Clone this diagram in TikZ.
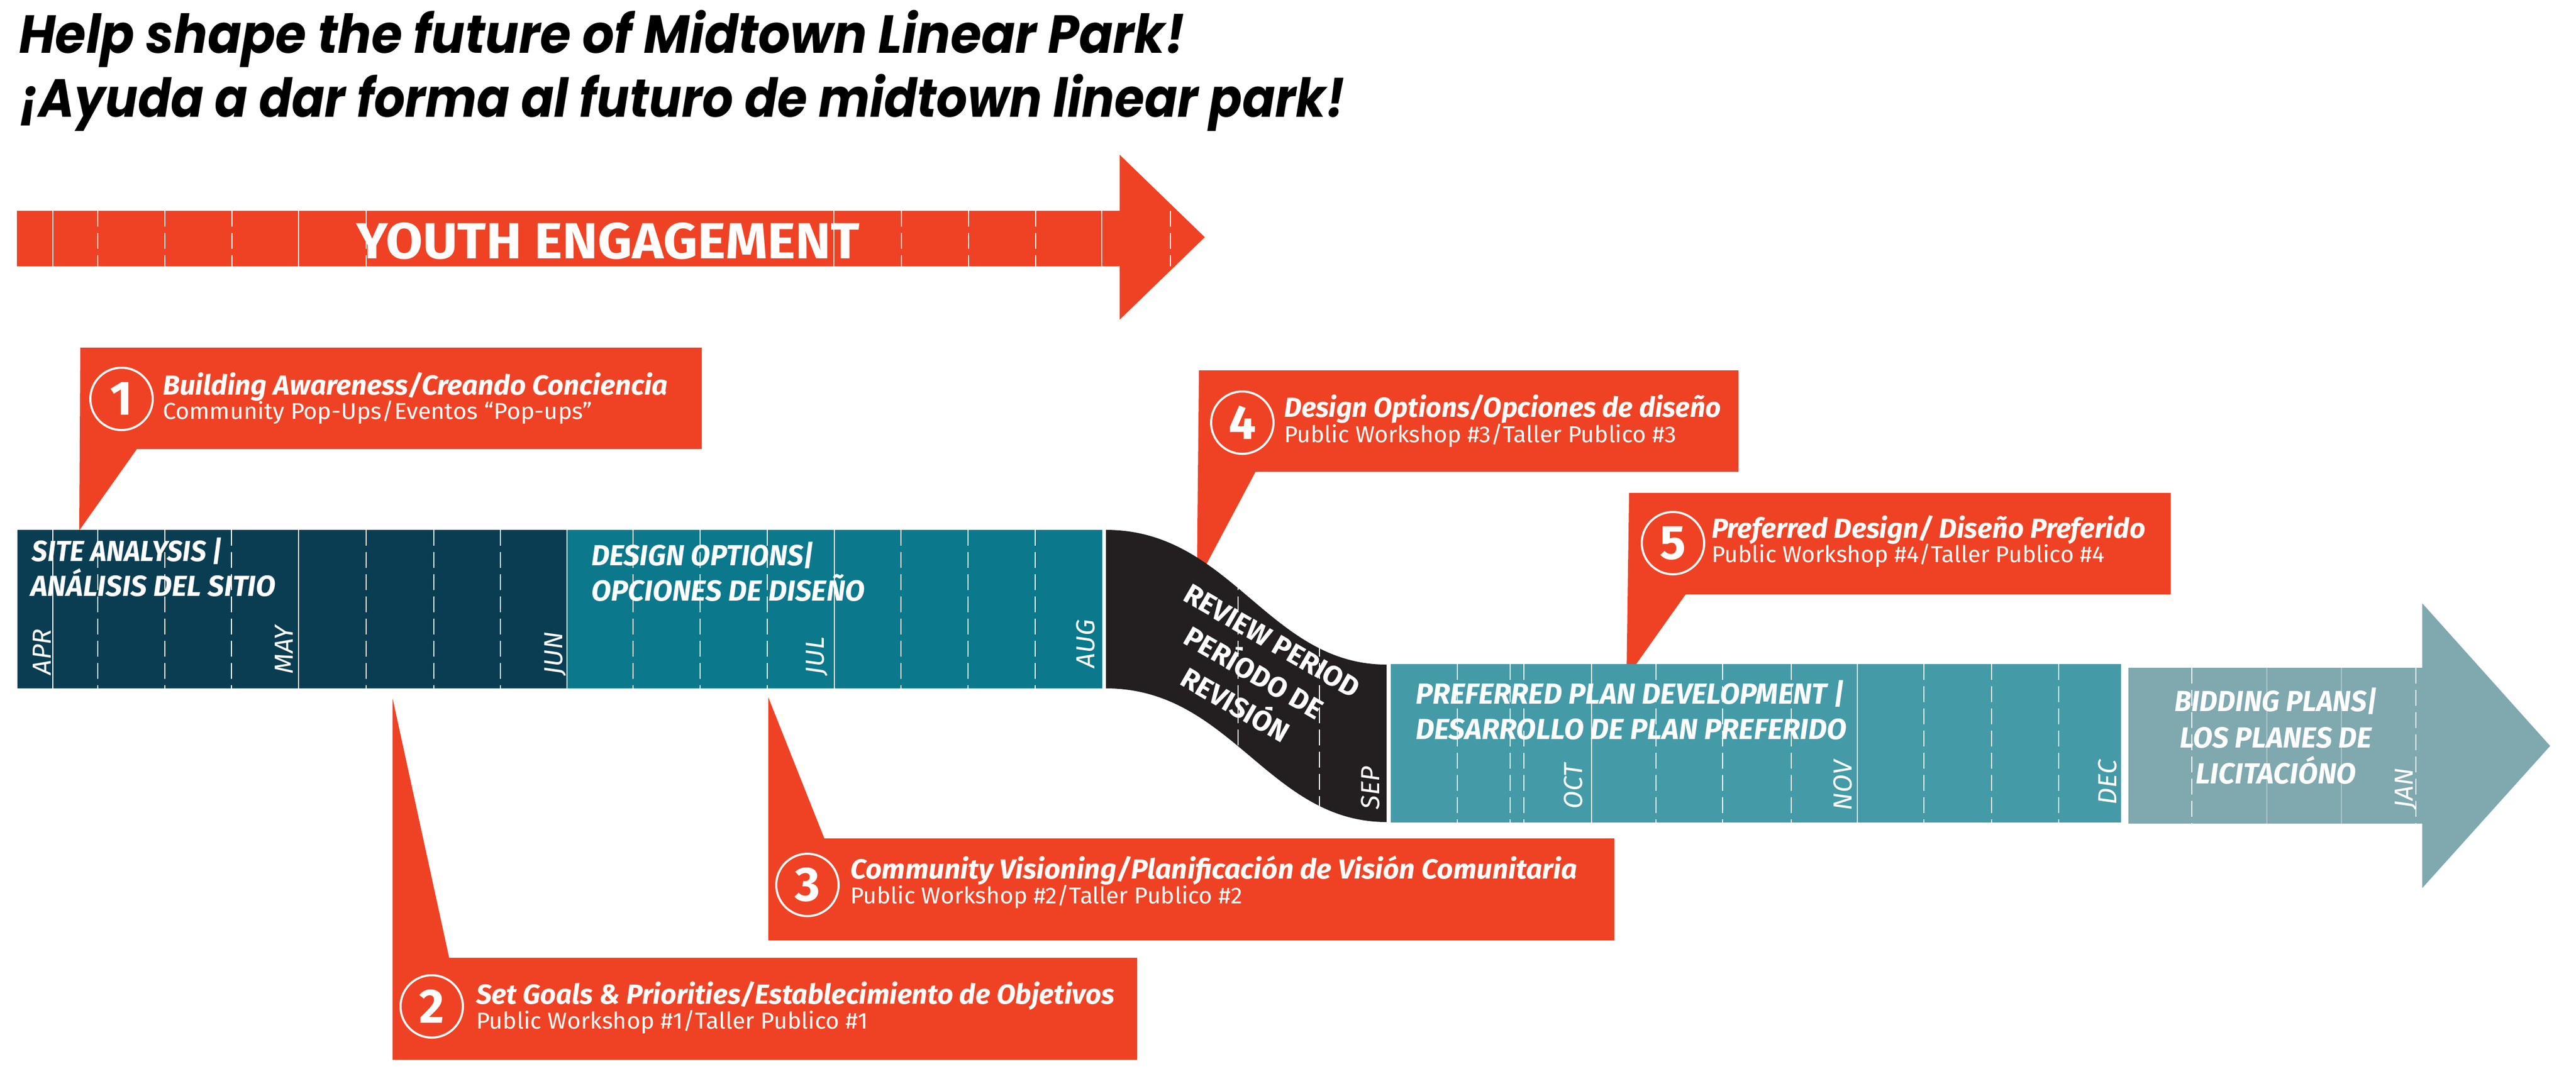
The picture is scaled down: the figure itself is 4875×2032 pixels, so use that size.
\documentclass[tikz,border=0pt]{standalone}
\usepackage{fontspec}
\setmainfont{Fira Sans}
\newfontfamily\titlefont{Poppins}
\usepackage{graphicx}
\newlength\pxu \setlength\pxu{0.2pt}
\newcommand\fitw[2]{\resizebox{#1\pxu}{\height}{#2}}
\definecolor{orng}{RGB}{239,66,36}
\definecolor{navy}{RGB}{10,61,82}
\definecolor{tealA}{RGB}{11,120,140}
\definecolor{tealB}{RGB}{68,155,167}
\definecolor{tealC}{RGB}{128,168,175}
\definecolor{blk}{RGB}{35,31,32}
\tikzset{
  txt/.style={anchor=base west, inner sep=0pt, outer sep=0pt, text=white},
  ctitle/.style={txt, font=\fontsize{10.45}{12}\selectfont\bfseries\itshape},
  csub/.style={txt, font=\fontsize{8.7}{10}\selectfont},
  barlbl/.style={txt, font=\fontsize{11}{13}\selectfont\bfseries\itshape},
  revlbl/.style={anchor=base, inner sep=0pt, text=white, rotate=-30, font=\fontsize{10.7}{13}\selectfont\bfseries},
  month/.style={anchor=base west, inner sep=0pt, text=white, rotate=90, font=\fontsize{9.9}{11}\selectfont\itshape},
  numcirc/.style={circle, draw=white, line width=0.8pt, minimum size=23.6pt, inner sep=0pt, text=white, font=\fontsize{18.3}{20}\selectfont\bfseries},
  gridsolid/.style={white, line width=0.4pt},
  griddash/.style={white, line width=0.35pt, dash pattern=on 6pt off 2.4pt},
  gridfaint/.style={white, opacity=0.35, line width=0.3pt},
  callout/.style={fill=orng, draw=none}
}
\begin{document}
\begin{tikzpicture}[x=0.2pt,y=-0.2pt]
\useasboundingbox[fill=white] (0,0) rectangle (4875,2032);

% ---- title
\node[txt, text=black, font=\titlefont\fontsize{20.3}{24}\selectfont\bfseries\itshape] (t1) at (36,100) {\fitw{2206}{Help shape the future of Midtown Linear Park!}};
\node[txt, text=black, font=\titlefont\fontsize{20.3}{24}\selectfont\bfseries\itshape] (t2) at (36,221) {\fitw{2509}{¡Ayuda a dar forma al futuro de midtown linear park!}};

% ---- youth engagement arrow
\fill[orng] (32,399) -- (2119,399) -- (2119,293) -- (2280,449) -- (2119,605) -- (2119,504) -- (32,504) -- cycle;
\foreach \x in {100,565,1578,2085} \draw[gridsolid] (\x,399) -- (\x,504);
\foreach \x in {185,312,439,693,1706,1833,1960,2215} \draw[griddash] (\x,399) -- (\x,504);
\node[txt, font=\fontsize{19.2}{22}\selectfont\bfseries] (youth) at (674,489) {\fitw{953}{YOUTH ENGAGEMENT}};

% ---- callouts
\fill[callout] (152,658) -- (1328,658) -- (1328,850) -- (259,850) -- (150,1004) -- cycle;
\fill[callout] (743,1322) -- (850,1813) -- (2152,1813) -- (2152,2006) -- (743,2006) -- cycle;
\fill[callout] (1454,1320) -- (1560,1587) -- (3055,1587) -- (3055,1780) -- (1454,1780) -- cycle;
\fill[callout] (2269,701) -- (3290,701) -- (3290,893) -- (2376,893) -- (2265,1102) -- cycle;
\fill[callout] (3083,933) -- (4108,933) -- (4108,1125) -- (3190,1125) -- (3078,1283) -- cycle;

% ---- timeline bars
\fill[navy] (33,1003) rectangle (1072,1303);
\fill[tealA] (1074,1003) rectangle (2086,1303);
\fill[blk] (2093,1003) .. controls (2330,1003) and (2400,1258) .. (2624,1258) -- (2624,1556) .. controls (2400,1556) and (2330,1303) .. (2093,1303) -- cycle;
\fill[tealB] (2632,1257) rectangle (4014,1557);
\fill[tealC] (4028,1264) -- (4584,1264) -- (4584,1142) -- (4826,1412) -- (4584,1681) -- (4584,1559) -- (4028,1559) -- cycle;

% grid lines
\foreach \x in {100,565} \draw[gridsolid] (\x,1003) -- (\x,1303);
\foreach \x in {185,312,438,693,821,947} \draw[griddash] (\x,1003) -- (\x,1303);
\draw[gridsolid] (1579,1003) -- (1579,1303);
\foreach \x in {1198,1325,1452,1705,1832,1959} \draw[griddash] (\x,1003) -- (\x,1303);
\begin{scope}
\clip (2093,1003) .. controls (2330,1003) and (2400,1258) .. (2624,1258) -- (2624,1556) .. controls (2400,1556) and (2330,1303) .. (2093,1303) -- cycle;
\foreach \x in {2343,2497} \draw[griddash] (\x,1003) -- (\x,1556);
\end{scope}
\foreach \x in {3012,3515} \draw[gridsolid] (\x,1257) -- (\x,1557);
\foreach \x in {2758,2858,2884,3134,3260,3390,3641,3769,3896} \draw[griddash] (\x,1257) -- (\x,1557);
\foreach \x in {4148,4572} \draw[griddash] (\x,1264) -- (\x,1559);
\foreach \x in {4290,4431} \draw[gridfaint] (\x,1264) -- (\x,1559);

% months
\node[month] (apr) at (96,1278) {APR};
\node[month] (may) at (554,1276) {MAY};
\node[month] (jun) at (1064,1278) {JUN};
\node[month] (jul) at (1559,1278) {JUL};
\node[month] (aug) at (2071,1265) {AUG};
\node[month] (sep) at (2610,1533) {SEP};
\node[month] (oct) at (2994,1532) {OCT};
\node[month] (nov) at (3504,1535) {NOV};
\node[month] (dec) at (4005,1524) {DEC};
\node[month] (jan) at (4566,1531) {JAN};

% bar labels
\node[barlbl] (sa1) at (61,1062) {\fitw{360}{SITE ANALYSIS |}};
\node[barlbl] (sa2) at (58,1128) {\fitw{464}{ANÁLISIS DEL SITIO}};
\node[barlbl] (do1) at (1119,1070) {\fitw{421}{DESIGN OPTIONS|}};
\node[barlbl] (do2) at (1119,1137) {\fitw{518}{OPCIONES DE DISEÑO}};
\node[barlbl] (pp1) at (2679,1332) {\fitw{811}{PREFERRED PLAN DEVELOPMENT |}};
\node[barlbl] (pp2) at (2679,1399) {\fitw{816}{DESARROLLO DE PLAN PREFERIDO}};
\node[barlbl, anchor=base] (bp1) at (4307,1346) {\fitw{383}{BIDDING PLANS|}};
\node[barlbl, anchor=base] (bp2) at (4307,1415) {\fitw{363}{LOS PLANES DE}};
\node[barlbl, anchor=base] (bp3) at (4307,1483) {\fitw{304}{LICITACIÓNO}};
% review period: three centred lines, rotated, baselines 70px apart
\node[revlbl] (rev1) at (2398,1229) {REVIEW PERIOD};
\node[revlbl] (rev2) at (2363,1290) {PERÍODO DE};
\node[revlbl] (rev3) at (2328,1351) {REVISIÓN};

% callout contents
\node[numcirc] (c1) at (230,755) {1};
\node[ctitle] (h1) at (308,747) {\fitw{956}{Building Awareness/Creando Conciencia}};
\node[csub] (s1) at (308,793) {\fitw{813}{Community Pop-Ups/Eventos “Pop-ups”}};

\node[numcirc] (c2) at (817,1905) {2};
\node[ctitle] (h2) at (901,1900) {\fitw{1208}{Set Goals \& Priorities/Establecimiento de Objetivos}};
\node[csub] (s2) at (901,1947) {\fitw{742}{Public Workshop \#1/Taller Publico \#1}};

\node[numcirc] (c3) at (1528,1675) {3};
\node[ctitle] (h3) at (1609,1663) {\fitw{1376}{Community Visioning/Planificación de Visión Comunitaria}};
\node[csub] (s3) at (1609,1710) {\fitw{742}{Public Workshop \#2/Taller Publico \#2}};

\node[numcirc] (c4) at (2351,800) {4};
\node[ctitle] (h4) at (2430,789) {\fitw{827}{Design Options/Opciones de diseño}};
\node[csub] (s4) at (2430,837) {\fitw{742}{Public Workshop \#3/Taller Publico \#3}};

\node[numcirc] (c5) at (3166,1028) {5};
\node[ctitle] (h5) at (3239,1018) {\fitw{821}{Preferred Design/ Diseño Preferido}};
\node[csub] (s5) at (3239,1064) {\fitw{744}{Public Workshop \#4/Taller Publico \#4}};
\end{tikzpicture}
\end{document}
